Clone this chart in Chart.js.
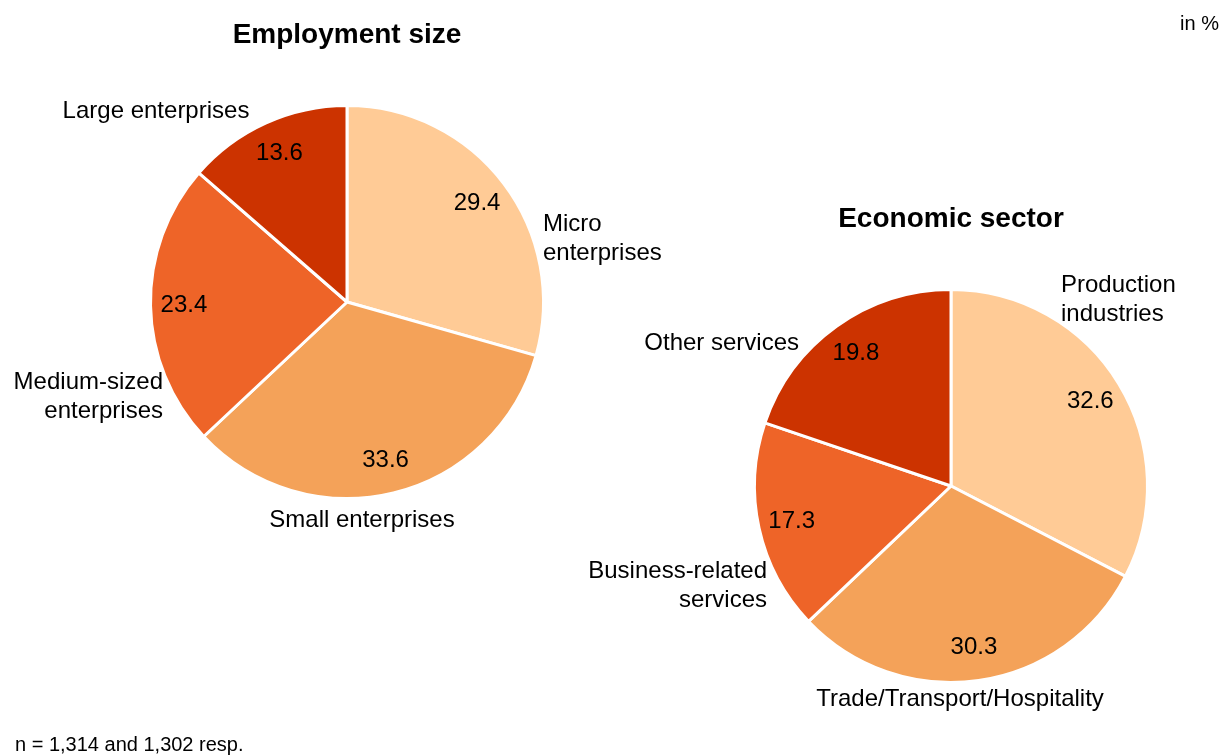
<!DOCTYPE html>
<html lang="en">
<head>
    <meta charset="UTF-8">
    <title>Employment size and economic sector</title>
    <script src="https://cdn.jsdelivr.net/npm/chart.js"></script>
    <style>
        body { margin: 0; background: #fff; }
        #wrap { position: relative; width: 1223px; height: 756px; }
        #wrap canvas { position: absolute; left: 0; top: 0; }
    </style>
</head>
<body>
    <div id="wrap">
        <canvas id="sizeChart" width="1223" height="756"></canvas>
        <canvas id="sectorChart" width="1223" height="756"></canvas>
    </div>
    <script>
        // Employment size (in %)
        const sizeLabels = [['Micro', 'enterprises'], ['Small enterprises'], ['Medium-sized', 'enterprises'], ['Large enterprises']];
        const sizeValues = [29.4, 33.6, 23.4, 13.6];

        // Economic sector (in %)
        const sectorLabels = [['Production', 'industries'], ['Trade/Transport/Hospitality'], ['Business-related', 'services'], ['Other services']];
        const sectorValues = [32.6, 30.3, 17.3, 19.8];

        const sliceColors = ['#FFCB96', '#F4A259', '#EE6428', '#CC3300'];
        const font = "'Liberation Sans', Arial, sans-serif";

        // where the category names sit, relative to the pie centre
        const sizeLabelPos = [
            { dx: 196, dy: -78, align: 'left' },
            { dx: 15, dy: 218, align: 'center' },
            { dx: -184, dy: 80, align: 'right' },
            { dx: -191, dy: -191, align: 'center' }
        ];
        const sectorLabelPos = [
            { dx: 110, dy: -201, align: 'left' },
            { dx: 9, dy: 213, align: 'center' },
            { dx: -184, dy: 85, align: 'right' },
            { dx: -152, dy: -143, align: 'right' }
        ];

        const pieLabels = {
            id: 'pieLabels',
            afterDraw(chart, args, opts) {
                const ctx = chart.ctx;
                const arcs = chart.getDatasetMeta(0).data;
                const values = chart.data.datasets[0].data;
                const cx = arcs[0].x, cy = arcs[0].y;
                ctx.save();
                ctx.fillStyle = '#000';

                // title
                ctx.font = 'bold 28px ' + font;
                ctx.textAlign = 'center';
                ctx.textBaseline = 'alphabetic';
                ctx.fillText(opts.title, cx, cy - 259);

                ctx.font = '24px ' + font;
                ctx.textBaseline = 'middle';
                arcs.forEach((arc, i) => {
                    const p = arc.getProps(['x', 'y', 'startAngle', 'endAngle', 'outerRadius'], true);
                    const mid = (p.startAngle + p.endAngle) / 2;
                    const r = p.outerRadius * 0.83;
                    ctx.textAlign = 'center';
                    ctx.fillText(values[i].toFixed(1), p.x + Math.cos(mid) * r, p.y + Math.sin(mid) * r);

                    const pos = opts.positions[i];
                    ctx.textAlign = pos.align;
                    chart.data.labels[i].forEach((line, j) => {
                        ctx.fillText(line, p.x + pos.dx, p.y + pos.dy + j * 29);
                    });
                });

                if (opts.notes) {
                    ctx.font = '20px ' + font;
                    ctx.textBaseline = 'alphabetic';
                    ctx.textAlign = 'right';
                    ctx.fillText('in %', 1219, 30);
                    ctx.textAlign = 'left';
                    ctx.fillText('n = 1,314 and 1,302 resp.', 15, 751);
                }
                ctx.restore();
            }
        };

        function makePie(id, labels, values, center, title, positions, notes) {
            const half = 205;
            return new Chart(document.getElementById(id), {
                type: 'pie',
                data: {
                    labels: labels,
                    datasets: [{
                        data: values,
                        backgroundColor: sliceColors,
                        borderColor: '#fff',
                        borderWidth: 3,
                        hoverOffset: 0
                    }]
                },
                options: {
                    responsive: false,
                    animation: false,
                    radius: 196.5,
                    layout: {
                        padding: {
                            left: center[0] - half,
                            right: 1223 - center[0] - half,
                            top: center[1] - half,
                            bottom: 756 - center[1] - half
                        }
                    },
                    plugins: {
                        legend: { display: false },
                        tooltip: { enabled: false },
                        pieLabels: { title: title, positions: positions, notes: notes }
                    }
                },
                plugins: [pieLabels]
            });
        }

        makePie('sizeChart', sizeLabels, sizeValues, [347, 302], 'Employment size', sizeLabelPos, true);
        makePie('sectorChart', sectorLabels, sectorValues, [951, 486], 'Economic sector', sectorLabelPos, false);
    </script>
</body>
</html>
